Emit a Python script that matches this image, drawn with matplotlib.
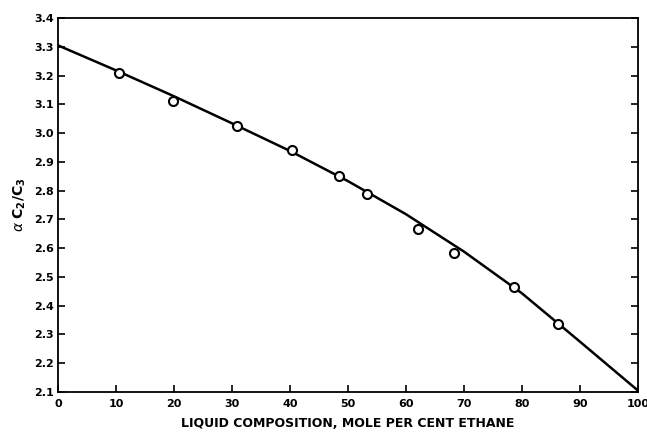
import matplotlib
matplotlib.use('Agg')
from matplotlib import pyplot as plt
import numpy as np

# measured points
x_pts = [10.5, 19.8, 30.8, 40.3, 48.4, 53.3, 62.1, 68.2, 78.7, 86.3]
y_pts = [3.21, 3.11, 3.025, 2.94, 2.852, 2.789, 2.666, 2.582, 2.465, 2.336]

# smoothed curve
x_curve = [0, 10, 20, 30, 40, 50, 60, 70, 80, 90, 100]
y_curve = [3.305, 3.218, 3.128, 3.034, 2.938, 2.833, 2.718, 2.588, 2.443, 2.275, 2.105]

xticks = [0, 10, 20, 30, 40, 50, 60, 70, 80, 90, 100]
yticks = [2.1, 2.2, 2.3, 2.4, 2.5, 2.6, 2.7, 2.8, 2.9, 3.0, 3.1, 3.2, 3.3, 3.4]

fig = plt.figure(figsize=(6.47, 4.34), dpi=100)
ax = fig.add_axes([0.0896, 0.0968, 0.8964, 0.8617])

ax.plot(x_curve, y_curve, color='black', lw=1.8, solid_joinstyle='round')
ax.plot(x_pts, y_pts, 'o', mfc='white', mec='black', mew=1.5, ms=6.5)

ax.set_xlim(0, 100)
ax.set_ylim(2.1, 3.4)
ax.set_xticks(xticks)
ax.set_yticks(yticks)
ax.set_xticklabels([str(t) for t in xticks], fontsize=8, fontweight='bold')
ax.set_yticklabels(['%.1f' % t for t in yticks], fontsize=8, fontweight='bold')
ax.tick_params(direction='in', length=5, width=1.2, right=True, top=False)
ax.tick_params(axis='x', pad=5)
ax.tick_params(axis='y', pad=3)

for s in ax.spines.values():
    s.set_linewidth(1.3)

ax.set_xlabel('LIQUID COMPOSITION, MOLE PER CENT ETHANE', fontsize=9, fontweight='bold', labelpad=6)
ax.set_ylabel(r'$\alpha\ \mathbf{C_2/C_3}$', fontsize=10, labelpad=4)

plt.savefig('out.png', dpi=100)
